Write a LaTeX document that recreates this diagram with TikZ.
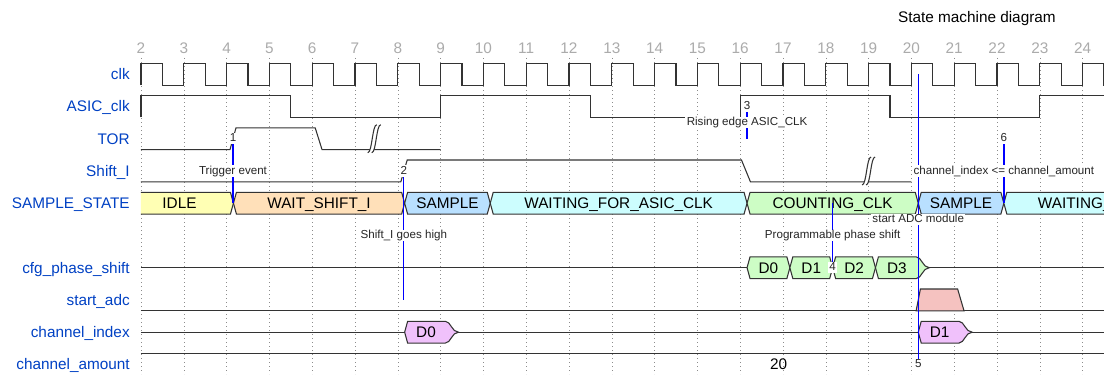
\documentclass[tikz,border=0pt]{standalone}
\usepackage{fontspec}
\setmainfont{Liberation Sans}
\definecolor{wdname}{HTML}{0041C4}
\definecolor{wdedge}{HTML}{0000FF}
\definecolor{cidle}{HTML}{FFFFB4}
\definecolor{cwait}{HTML}{FFE0B9}
\definecolor{csample}{HTML}{B9E0FF}
\definecolor{cwaiting}{HTML}{CCFDFE}
\definecolor{ccount}{HTML}{CDFDC5}
\definecolor{cindex}{HTML}{F0C1FB}
\definecolor{cadc}{HTML}{F5C2C0}

\begin{document}
\begin{tikzpicture}[x=32.1pt,y=-0.75pt,font=\fontsize{11.5}{13.8}\selectfont,
  lane/.style={draw=black!80,line width=0.8pt},
  gridline/.style={black!45,line width=0.4pt,dash pattern=on 0.75pt off 2.25pt},
  boxtxt/.style={inner sep=0pt,text height=8.3pt,text depth=0pt},
  signame/.style={boxtxt,anchor=east,text=wdname},
  ticknum/.style={boxtxt,text=black!33},
  edgeline/.style={wdedge,line width=1pt},
  edgelbl/.style={fill=white,text=black!85,font=\fontsize{8.7}{10}\selectfont,
    inner xsep=1pt,inner ysep=0.3pt,text height=6.3pt,text depth=1.6pt}]
% x: one clock period per unit (0 = cycle 2), y: pixels downwards
\useasboundingbox (-3.294,0) rectangle (22.5,374);
\fill[white] (-3.294,0) rectangle (22.5,374);
\clip (-3.294,0) rectangle (22.5,374);
% ---- header: title, cycle numbers, grid ----
\node[boxtxt] (title) at (19.53,17) {State machine diagram};
\foreach \k in {0,...,22}{
  \draw[gridline] (\k,58) -- (\k,374);
  \pgfmathtruncatemacro\cyc{\k+2}
  \node[ticknum] (tick\cyc) at (\k,47.6) {\cyc};}
% ---- signal names ----
\foreach \y/\txt [count=\i] in {74.2/clk,106.45/ASIC\_clk,138.7/TOR,170.95/Shift\_I,
    203.2/SAMPLE\_STATE,267.7/cfg\_phase\_shift,299.95/start\_adc,
    332.2/channel\_index,364.45/channel\_amount}
  \node[signame] (name\i) at (-0.257,\y) {\txt};
% ---- clocks ----
\draw[lane] (0,85.1) \foreach \k in {0,...,22}{
  -- (\k,85.1) -- (\k,63.3) -- ({\k+.5},63.3) -- ({\k+.5},85.1)} -- (23,85.1);
\draw[lane] (0,117.4) -- (0,95.5) -- (3.5,95.5) -- (3.5,117.4) -- (7,117.4)
  -- (7,95.5) -- (10.5,95.5) -- (10.5,117.4) -- (14,117.4) -- (14,95.5)
  -- (17.5,95.5) -- (17.5,117.4) -- (21,117.4) -- (21,95.5) -- (23,95.5);
% ---- TOR and Shift_I ----
\draw[lane] (0,149.6) -- (2.08,149.6) -- (2.22,127.8) -- (4.07,127.8)
  -- (4.23,149.6) -- (7,149.6);
\draw[lane] (0,181.9) -- (6.07,181.9) -- (6.22,160) -- (14.03,160)
  -- (14.24,181.9) -- (18,181.9);
\foreach \gx/\gy in {5.45/138.7,17.0/170.95}{
  \begin{scope}[shift={(\gx,\gy)},x=0.75pt]
  \fill[white] (-6.5,14) .. controls (-2,14) and (-2,-14) .. (2.5,-14) -- (6.5,-14)
    .. controls (2,-14) and (2,14) .. (-2.5,14) -- cycle;
  \draw[lane] (-6.5,14) .. controls (-2,14) and (-2,-14) .. (2.5,-14);
  \draw[lane] (-2.5,14) .. controls (2,14) and (2,-14) .. (6.5,-14);
  \end{scope}}
% ---- SAMPLE_STATE ----
\fill[cidle] (0,192.3) -- (2.09,192.3) -- (2.16,203.2) -- (2.09,214.1) -- (0,214.1) -- cycle;
\draw[lane] (0,192.3) -- (2.09,192.3) -- (2.16,203.2) -- (2.09,214.1) -- (0,214.1);
\node[boxtxt] (state0) at (0.9,203.2) {IDLE};
\foreach \a/\b/\col/\txt [count=\i] in {2.16/6.16/cwait/WAIT\_SHIFT\_I,
    6.16/8.16/csample/SAMPLE,8.16/14.16/cwaiting/WAITING\_FOR\_ASIC\_CLK,
    14.16/18.16/ccount/COUNTING\_CLK,18.16/20.16/csample/SAMPLE,
    20.16/26.16/cwaiting/WAITING\_FOR\_ASIC\_CLK}{
  \filldraw[lane,fill=\col] (\a,203.2) -- ({\a+.07},192.3) -- ({\b-.07},192.3)
    -- (\b,203.2) -- ({\b-.07},214.1) -- ({\a+.07},214.1) -- cycle;
  \node[boxtxt] (state\i) at ({(\a+\b)/2},203.2) {\txt};}
% ---- cfg_phase_shift ----
\draw[lane] (0,267.7) -- (23,267.7);
\foreach \a [count=\i from 0] in {14.16,15.16,16.16}{
  \filldraw[lane,fill=ccount] (\a,267.7) -- ({\a+.07},256.8) -- ({\a+.93},256.8)
    -- ({\a+1},267.7) -- ({\a+.93},278.6) -- ({\a+.07},278.6) -- cycle;
  \node[boxtxt] (cfg\i) at ({\a+.5},267.7) {D\i};}
\filldraw[lane,fill=ccount] (17.16,267.7) -- (17.23,256.8) -- (18.11,256.8)
  .. controls (18.24,256.8) and (18.26,267.7) .. (18.42,267.7)
  .. controls (18.26,267.7) and (18.24,278.6) .. (18.11,278.6) -- (17.23,278.6) -- cycle;
\node[boxtxt] (cfg3) at (17.66,267.7) {D3};
% ---- start_adc ----
\draw[lane] (0,310.9) -- (23,310.9);
\filldraw[lane,fill=cadc] (18.11,310.9) -- (18.21,289) -- (19.08,289) -- (19.23,310.9) -- cycle;
% ---- channel_index ----
\draw[lane] (0,332.2) -- (23,332.2);
\foreach \a [count=\i from 0] in {6.16,18.16}{
  \filldraw[lane,fill=cindex] (\a,332.2) -- ({\a+.07},321.3) -- ({\a+.95},321.3)
    .. controls ({\a+1.08},321.3) and ({\a+1.1},332.2) .. ({\a+1.26},332.2)
    .. controls ({\a+1.1},332.2) and ({\a+1.08},343.1) .. ({\a+.95},343.1)
    -- ({\a+.07},343.1) -- cycle;
  \node[boxtxt] (index\i) at ({\a+.5},332.2) {D\i};}
% ---- channel_amount ----
\draw[lane] (0,353.5) -- (23,353.5);
\draw[lane] (0,375.4) -- (23,375.4);
\node[boxtxt] (amount) at (14.9,364.45) {20};
% ---- edges: numbered end first ----
\foreach \x/\ya/\yb/\txt [count=\i] in {2.15/138.7/203.2/Trigger event,
    6.14/170.95/299.95/Shift\_I goes high,14.16/106.45/138.7/Rising edge ASIC\_CLK,
    16.16/267.7/203.2/Programmable phase shift,18.16/364.45/74.2/start ADC module,
    20.16/138.7/203.2/channel\_index <= channel\_amount}{
  \coordinate (ea\i) at (\x,\ya);
  \coordinate (eb\i) at (\x,\yb);
  \draw[edgeline] (ea\i) -- node[edgelbl] (elbl\i) {\txt} (eb\i);
  \node[edgelbl] (enum\i) at (ea\i) {\i};}
\end{tikzpicture}
\end{document}
